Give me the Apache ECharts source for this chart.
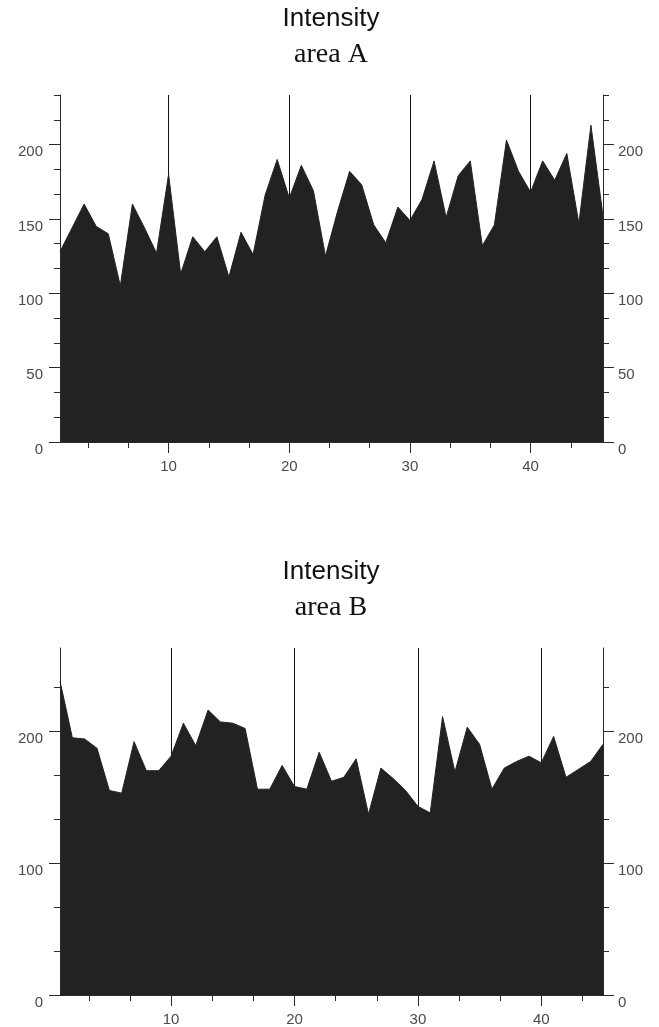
<!DOCTYPE html>
<html>
<head>
<meta charset="utf-8">
<script src="https://cdn.jsdelivr.net/npm/echarts@6/dist/echarts.min.js"></script>
<style>
html,body{margin:0;padding:0;background:#fff;}
#chart{width:659px;height:1027px;}
</style>
</head>
<body>
<div id="chart"></div>
<script>
// ---- data ----
const positionsA = [1,2,3,4,5,6,7,8,9,10,11,12,13,14,15,16,17,18,19,20,21,22,23,24,25,26,27,28,29,30,31,32,33,34,35,36,37,38,39,40,41,42,43,44,45,46];
const intensityA = [128,144,160,145,140,105,160,144,127,180,113,138,128,138,111,141,126,166,190,164,186,169,125,155,182,173,146,134,158,149,163,189,151,179,189,132,146,203,182,168,189,176,194,147,213,152];
const positionsB = [1,2,3,4,5,6,7,8,9,10,11,12,13,14,15,16,17,18,19,20,21,22,23,24,25,26,27,28,29,30,31,32,33,34,35,36,37,38,39,40,41,42,43,44,45];
const intensityB = [238,195,194,187,155,153,192,170,170,181,206,189,216,207,206,202,156,156,174,158,156,184,162,165,179,137,172,164,155,143,138,211,169,203,190,156,172,177,181,176,196,165,171,177,190];

const xMajorTicks = [10,20,30,40];
const xMinorTicks = [3.333,6.667,13.333,16.667,23.333,26.667,33.333,36.667,43.333];
const yMajorTicksA = [0,50,100,150,200];
const yMinorTicksA = [16.667,33.333,66.667,83.333,116.667,133.333,166.667,183.333,216.667,233.333];
const yMajorTicksB = [0,100,200];
const yMinorTicksB = [33.333,66.667,133.333,166.667,233.333];
const titlesA = ['Intensity','area A'];
const titlesB = ['Intensity','area B'];

// ---- chart ----
const AX = '#2a2a2a';
const LBL = '#4a4a4a';
const FONT = 'Liberation Sans, Arial, sans-serif';

function xMajor(grid, max){
  return {type:'value', gridIndex:grid, position:'bottom', min:1, max:max, z:3,
    axisLine:{show:true, onZero:false, lineStyle:{color:AX, width:1}},
    axisTick:{show:true, customValues:xMajorTicks, length:11, lineStyle:{color:AX}},
    axisLabel:{show:true, customValues:xMajorTicks, margin:17, fontSize:15, color:LBL, fontFamily:FONT},
    splitLine:{show:true, lineStyle:{color:'#111', width:1}}};
}
function xMinor(grid, max){
  return {type:'value', gridIndex:grid, position:'bottom', min:1, max:max, z:3,
    axisLine:{show:false},
    axisTick:{show:true, customValues:xMinorTicks, length:6, lineStyle:{color:AX}},
    axisLabel:{show:false}, splitLine:{show:false}};
}
function yMajor(grid, max, pos, ticks){
  return {type:'value', gridIndex:grid, position:pos, min:0, max:max, z:3,
    axisLine:{show:true, onZero:false, lineStyle:{color:AX, width:1}},
    axisTick:{show:true, customValues:ticks, length:11, lineStyle:{color:AX}},
    axisLabel:{show:true, customValues:ticks, margin: pos==='left'?17:15, fontSize:15, color:LBL, fontFamily:FONT, verticalAlign:'top'},
    splitLine:{show:false}};
}
function yMinor(grid, max, pos, ticks){
  return {type:'value', gridIndex:grid, position:pos, min:0, max:max, z:3,
    axisLine:{show:false, onZero:false},
    axisTick:{show:true, customValues:ticks, length:6, lineStyle:{color:AX}},
    axisLabel:{show:false}, splitLine:{show:false}};
}
function pairs(xs, ys){ return xs.map((x,i)=>[x, ys[i]]); }

const option = {
  backgroundColor:'#fff',
  animation:false,
  title:[
    {text:titlesA[0], left:331, top:6, textAlign:'center', padding:0, textStyle:{fontFamily:FONT, fontSize:26, fontWeight:'normal', color:'#111'}},
    {text:titlesA[1], left:331, top:41, textAlign:'center', padding:0, textStyle:{fontFamily:'Liberation Serif, Times New Roman, serif', fontSize:28, fontWeight:'normal', color:'#111'}},
    {text:titlesB[0], left:331, top:559, textAlign:'center', padding:0, textStyle:{fontFamily:FONT, fontSize:26, fontWeight:'normal', color:'#111'}},
    {text:titlesB[1], left:331, top:594, textAlign:'center', padding:0, textStyle:{fontFamily:'Liberation Serif, Times New Roman, serif', fontSize:28, fontWeight:'normal', color:'#111'}}
  ],
  grid:[
    {left:60, width:543, top:95, height:347, containLabel:false},
    {left:60, width:543, top:648, height:349, containLabel:false}
  ],
  xAxis:[ xMajor(0,46), xMinor(0,46), xMajor(1,45), xMinor(1,45) ],
  yAxis:[
    yMajor(0,233.333,'left',yMajorTicksA), yMinor(0,233.333,'left',yMinorTicksA),
    yMajor(0,233.333,'right',yMajorTicksA), yMinor(0,233.333,'right',yMinorTicksA),
    yMajor(1,263,'left',yMajorTicksB), yMinor(1,263,'left',yMinorTicksB),
    yMajor(1,263,'right',yMajorTicksB), yMinor(1,263,'right',yMinorTicksB)
  ],
  series:[
    {type:'line', xAxisIndex:0, yAxisIndex:0, data:pairs(positionsA,intensityA), symbol:'none',
      lineStyle:{color:'#222', width:1}, areaStyle:{color:'#222', opacity:1}, silent:true},
    {type:'line', xAxisIndex:2, yAxisIndex:4, data:pairs(positionsB,intensityB), symbol:'none',
      lineStyle:{color:'#222', width:1}, areaStyle:{color:'#222', opacity:1}, silent:true}
  ]
};
const chart = echarts.init(document.getElementById('chart'), null, {renderer:'canvas'});
chart.setOption(option);
</script>
</body>
</html>
